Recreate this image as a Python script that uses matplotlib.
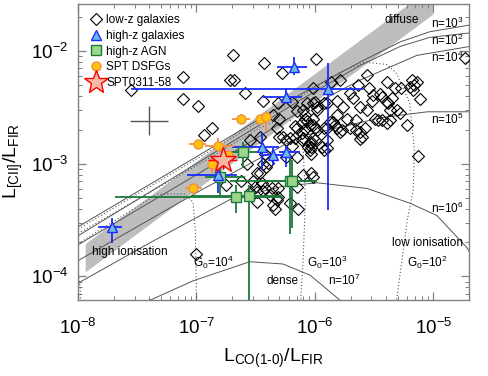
import numpy as np
import matplotlib
matplotlib.use("Agg")
import matplotlib.pyplot as plt
from matplotlib.lines import Line2D

plt.rcParams['font.family'] = ['Liberation Sans', 'DejaVu Sans']
plt.rcParams['mathtext.fontset'] = 'custom'
plt.rcParams['mathtext.rm'] = 'Liberation Sans'
plt.rcParams['mathtext.it'] = 'Liberation Sans:italic'
plt.rcParams['mathtext.bf'] = 'Liberation Sans:bold'

# === DATA (log10 values) ===
# low-z galaxies
lowz_logco = [-7.55, -7.11, -6.69, -6.72, -6.68, -6.59, -7.11, -6.99, -6.87, -6.94,
              -6.43, -5.99, -6.28, -6.44, -6.31, -6.35, -6.30, -6.15, -6.17, -6.08,
              -6.07, -6.02, -5.98, -6.08, -5.98, -6.30, -6.24, -6.17, -6.04, -5.94,
              -5.90, -5.90,
              -5.56, -5.79, -5.86, -6.02, -6.19, -5.39, -5.32, -5.27, -5.18, -5.16,
              -5.17, -5.14, -5.20, -5.11, -4.73, -5.70, -5.68, -5.51, -5.43, -5.39,
              -5.56, -5.62, -5.37, -5.31, -5.49, -5.22, -6.07, -6.10, -5.98, -5.90,
              -5.81, -5.76, -5.81, -5.73, -5.65, -5.65, -5.60, -5.70, -5.81, -5.87,
              -6.02, -6.08, -6.15, -6.11, -6.21, -6.27, -5.64, -5.54, -5.45, -5.35,
              -5.38, -5.52, -6.00, -5.92, -5.85, -5.92, -6.02, -5.62, -6.00, -6.03,
              -6.11, -5.28, -5.43, -5.37, -5.58, -5.77,
              -6.11, -6.04, -6.00, -5.83, -5.79, -5.62, -5.47, -5.39, -6.10, -6.03,
              -6.06, -6.03, -5.90, -6.19, -6.24, -6.41, -6.10, -6.03, -6.02, -6.36,
              -6.44, -6.32, -6.34, -6.14, -6.40,
              -5.13, -6.02, -6.04, -5.92, -6.49, -6.49, -6.44, -7.00,
              -6.55, -6.46, -6.42, -6.15, -6.57, -6.46, -6.62, -6.45, -6.55, -6.49,
              -6.42, -6.31, -6.38, -6.31, -6.15, -6.21, -6.75, -6.51, -6.52, -6.35,
              -6.32]
lowz_logcii = [-2.35, -2.23, -2.04, -2.26, -2.26, -2.37, -2.43, -2.49, -2.68, -2.75,
               -2.11, -2.07, -2.20, -2.44, -2.46, -2.57, -2.60, -2.53, -2.67, -2.60,
               -2.62, -2.46, -2.50, -2.69, -2.70, -2.76, -2.79, -2.77, -2.82, -2.85,
               -2.79, -2.68,
               -2.21, -2.26, -2.28, -2.33, -2.45, -2.28, -2.33, -2.33, -2.26, -2.30,
               -2.35, -2.28, -2.32, -2.43, -2.06, -2.37, -2.42, -2.39, -2.41, -2.45,
               -2.52, -2.50, -2.52, -2.52, -2.60, -2.66, -2.46, -2.52, -2.52, -2.46,
               -2.44, -2.50, -2.57, -2.60, -2.61, -2.70, -2.76, -2.68, -2.68, -2.63,
               -2.60, -2.57, -2.68, -2.73, -2.77, -2.76, -2.30, -2.33, -2.38, -2.42,
               -2.46, -2.44, -2.45, -2.46, -2.63, -2.68, -2.66, -2.78, -2.79, -2.85,
               -2.79, -2.55, -2.61, -2.61, -2.68, -2.70,
               -2.64, -2.66, -2.68, -2.66, -2.72, -2.72, -2.61, -2.64, -2.77, -2.81,
               -2.85, -2.91, -2.86, -2.84, -2.94, -3.03, -3.10, -3.08, -3.12, -3.22,
               -3.24, -3.32, -3.40, -3.40, -2.99,
               -2.93, -2.77, -2.88, -2.88, -3.08, -3.34, -3.00, -3.80,
               -2.79, -2.76, -2.91, -2.94, -3.00, -3.08, -3.15, -3.17, -3.25, -3.25,
               -3.22, -3.22, -3.28, -3.30, -3.21, -3.35, -3.19, -3.21, -3.15, -3.37,
               -2.68]

# high-z galaxies: centre, then co range and cii range
hz_logco = [-5.89, -6.18, -6.24, -6.45, -6.35, -6.24, -6.82, -7.71]
hz_logcii = [-2.34, -2.14, -2.41, -2.85, -2.92, -2.90, -3.10, -3.56]
hz_co_lo = [-7.55, -6.32, -6.44, -6.70, -6.45, -6.30, -7.08, -7.83]
hz_co_hi = [-5.59, -6.07, -6.11, -6.30, -6.25, -6.13, -6.66, -7.63]
hz_cii_lo = [-3.41, -2.21, -2.46, -3.06, -3.01, -3.03, -3.26, -3.70]
hz_cii_hi = [-2.11, -2.05, -2.33, -2.73, -2.86, -2.84, -3.03, -3.48]

# high-z AGN
agn_logco = [-6.61, -6.80, -6.21, -6.19, -6.67, -6.56]
agn_logcii = [-2.90, -3.12, -3.15, -3.15, -3.30, -3.29]
agn_co_lo = [-6.72, -6.93, -6.72, -6.46, -7.69, -7.05]
agn_co_hi = [-6.46, -6.59, -5.98, -6.00, -6.27, -6.27]
agn_cii_lo = [-3.03, -3.28, -3.62, -3.57, -3.44, -4.40]
agn_cii_hi = [-2.81, -3.00, -2.95, -2.97, -3.19, -3.19]

# SPT DSFGs
spt_logco = [-6.62, -6.46, -6.41, -6.99, -6.82, -6.73, -6.87, -7.03]
spt_logcii = [-2.60, -2.60, -2.59, -2.83, -2.84, -2.92, -3.00, -3.22]
spt_co_lo = [-6.70, -6.46, -6.41, -7.06, -6.93, -6.73, -6.87, -7.10]
spt_co_hi = [-6.55, -6.46, -6.41, -6.92, -6.68, -6.73, -6.87, -6.95]
spt_cii_lo = [-2.64, -2.60, -2.71, -2.83, -2.89, -2.92, -3.08, -3.22]
spt_cii_hi = [-2.56, -2.60, -2.53, -2.83, -2.77, -2.92, -2.93, -3.22]

# SPT0311-58
star_logco, star_logcii = -6.78, -2.97
star_co_lo, star_co_hi = -6.90, -6.66
star_cii_lo, star_cii_hi = -3.05, -2.90

# typical error cross
cross_logco, cross_logcii = -7.40, -2.62
cross_co_lo, cross_co_hi = -7.56, -7.24
cross_cii_lo, cross_cii_hi = -2.75, -2.49

# PDR model grid: density contours (solid) and G0 contours (dotted)
dens_curves = {
    '3': ([-8.00, -6.97, -6.13, -5.62, -5.28, -5.03, -4.69],
          [-3.56, -2.92, -2.39, -2.10, -1.92, -1.83, -1.77]),
    '2': ([-8.00, -6.97, -6.13, -5.62, -5.28, -5.03, -4.69],
          [-3.64, -2.98, -2.44, -2.13, -1.96, -1.88, -1.84]),
    '4': ([-8.00, -6.97, -6.13, -5.62, -5.14, -4.69],
          [-3.72, -3.08, -2.54, -2.26, -2.04, -1.96]),
    '5': ([-8.00, -6.97, -6.13, -5.43, -5.05, -4.69],
          [-3.86, -3.24, -2.76, -2.59, -2.54, -2.54]),
    '6': ([-8.00, -7.39, -6.72, -6.27, -5.98, -5.56, -5.20, -4.97, -4.72, -4.69],
          [-4.06, -3.70, -3.32, -3.20, -3.17, -3.22, -3.35, -3.46, -3.74, -3.79]),
    '7': ([-7.48, -7.39, -7.03, -6.55, -6.27, -6.04, -5.79],
          [-4.26, -4.21, -4.04, -3.87, -3.89, -3.99, -4.21]),
}
g0_curves = {
    '2': ([-8.00, -6.97, -6.13, -5.79, -5.58, -5.39, -5.31, -5.20, -5.16, -5.17, -5.22, -5.31, -5.32],
          [-3.58, -2.94, -2.41, -2.19, -2.10, -2.12, -2.20, -2.46, -2.88, -3.24, -3.50, -4.21, -4.30]),
    '3': ([-8.00, -6.97, -6.46, -6.25, -6.14, -6.10, -6.08, -6.10, -6.12, -6.13],
          [-3.62, -3.00, -2.68, -2.59, -2.66, -2.84, -3.32, -3.86, -4.21, -4.30]),
    '4': ([-8.00, -7.33, -7.10, -7.03, -7.01, -7.00, -7.00],
          [-3.71, -3.27, -3.27, -3.34, -3.59, -4.21, -4.30]),
    '5': ([-8.00, -7.98, -7.98],
          [-3.95, -4.12, -4.30]),
}

# grey band
band_logco = [-7.94, -5.0]
band_logcii_lo = [-3.96, -1.67]
band_logcii_hi = [-3.71, -1.42]


def p(v):
    return 10.0 ** np.asarray(v, dtype=float)


def err(c, lo, hi):
    c, lo, hi = p(c), p(lo), p(hi)
    return np.vstack([c - lo, hi - c])


fig = plt.figure(figsize=(4.88, 3.76), dpi=100)
ax = fig.add_axes([0.160, 0.202, 0.801, 0.787])
ax.set_xscale('log')
ax.set_yscale('log')

line_col = '#555555'

ax.fill_between(p(band_logco), p(band_logcii_lo), p(band_logcii_hi),
                color='#bdbdbd', lw=0, zorder=1)

for k, (lx, ly) in dens_curves.items():
    ax.plot(p(lx), p(ly), color=line_col, lw=0.7, zorder=2)
for k, (lx, ly) in g0_curves.items():
    ax.plot(p(lx), p(ly), color=line_col, lw=0.8, ls=(0, (1, 2)), zorder=2)

# typical error
ax.errorbar(p(cross_logco), p(cross_logcii),
            xerr=err([cross_logco], [cross_co_lo], [cross_co_hi]),
            yerr=err([cross_logcii], [cross_cii_lo], [cross_cii_hi]),
            fmt='none', ecolor='#555555', elinewidth=1.0, capsize=0, zorder=3)

# low-z diamonds
ax.plot(p(lowz_logco), p(lowz_logcii), 'D', ms=5.8, mfc='none', mec='black',
        mew=0.8, zorder=4)

# AGN
ax.errorbar(p(agn_logco), p(agn_logcii),
            xerr=err(agn_logco, agn_co_lo, agn_co_hi),
            yerr=err(agn_logcii, agn_cii_lo, agn_cii_hi),
            fmt='none', ecolor='#1b7a3c', elinewidth=1.3, capsize=0, zorder=5)
# high-z galaxies
ax.errorbar(p(hz_logco), p(hz_logcii),
            xerr=err(hz_logco, hz_co_lo, hz_co_hi),
            yerr=err(hz_logcii, hz_cii_lo, hz_cii_hi),
            fmt='none', ecolor='#1a2cff', elinewidth=1.3, capsize=0, zorder=5)
# SPT
ax.errorbar(p(spt_logco), p(spt_logcii),
            xerr=err(spt_logco, spt_co_lo, spt_co_hi),
            yerr=err(spt_logcii, spt_cii_lo, spt_cii_hi),
            fmt='none', ecolor='#f2903a', elinewidth=1.3, capsize=0, zorder=5)

ax.plot(p(agn_logco), p(agn_logcii), 's', ms=6.5, mfc='#9ed68c', mec='#1b7a3c',
        mew=1.0, zorder=6)
ax.plot(p(hz_logco), p(hz_logcii), '^', ms=7.5, mfc='#6fb6ea', mec='#1a2cff',
        mew=1.0, zorder=6)
ax.plot(p(spt_logco), p(spt_logcii), 'o', ms=6.5, mfc='#ffc20e', mec='#f2903a',
        mew=1.0, zorder=6)

ax.errorbar(p(star_logco), p(star_logcii),
            xerr=err([star_logco], [star_co_lo], [star_co_hi]),
            yerr=err([star_logcii], [star_cii_lo], [star_cii_hi]),
            fmt='none', ecolor='red', elinewidth=1.0, capsize=0, zorder=7)
ax.plot(p(star_logco), p(star_logcii), '*', ms=19, mfc='#f7b8a8', mec='red',
        mew=1.0, zorder=8)

# model labels
fs = 8.5
ax.text(p(-5.27), p(-1.73), 'diffuse', fontsize=fs, ha='center', va='center')
for exp_, ly in [('3', -1.76), ('2', -1.91), ('4', -2.06), ('5', -2.61), ('6', -3.40)]:
    ax.text(p(-5.02), p(ly), 'n=10$^{%s}$' % exp_, fontsize=fs, ha='left', va='center')
ax.text(p(-5.05), p(-3.70), 'low ionisation', fontsize=fs, ha='center', va='center')
ax.text(p(-5.22), p(-3.88), 'G$_0$=10$^2$', fontsize=fs, ha='left', va='center')
ax.text(p(-6.07), p(-3.88), 'G$_0$=10$^3$', fontsize=fs, ha='left', va='center')
ax.text(p(-7.03), p(-3.88), 'G$_0$=10$^4$', fontsize=fs, ha='left', va='center')
ax.text(p(-6.27), p(-4.04), 'dense', fontsize=fs, ha='center', va='center')
ax.text(p(-5.89), p(-4.04), 'n=10$^7$', fontsize=fs, ha='left', va='center')
ax.text(p(-7.88), p(-3.78), 'high ionisation', fontsize=fs, ha='left', va='center')

ax.set_xlim(1e-8, 2e-5)
ax.set_ylim(10 ** -4.21, 10 ** -1.585)

for s in ax.spines.values():
    s.set_color('#7f7f7f')
    s.set_linewidth(1.0)
ax.tick_params(which='both', direction='in', top=True, right=True, color='#7f7f7f')
ax.tick_params(which='major', length=6, width=0.9, labelsize=13.5)
ax.tick_params(which='minor', length=3, width=0.7)
ax.tick_params(axis='x', which='major', pad=13)
ax.tick_params(axis='y', which='major', pad=7)

ax.set_xlabel(r'L$_{\rm CO(1\text{-}0)}$/L$_{\rm FIR}$', fontsize=14, labelpad=6)
ax.set_ylabel(r'L$_{\rm [CII]}$/L$_{\rm FIR}$', fontsize=14)
ax.yaxis.set_label_coords(-0.135, 0.47)

handles = [
    Line2D([], [], ls='none', marker='D', ms=5.8, mfc='none', mec='black', mew=0.8),
    Line2D([], [], ls='none', marker='^', ms=7.5, mfc='#6fb6ea', mec='#1a2cff', mew=1.0),
    Line2D([], [], ls='none', marker='s', ms=6.5, mfc='#9ed68c', mec='#1b7a3c', mew=1.0),
    Line2D([], [], ls='none', marker='o', ms=6.5, mfc='#ffc20e', mec='#f2903a', mew=1.0),
    Line2D([], [], ls='none', marker='*', ms=18, mfc='#f7b8a8', mec='red', mew=1.0),
]
labels = ['low-z galaxies', 'high-z galaxies', 'high-z AGN', 'SPT DSFGs', 'SPT0311-58']
ax.legend(handles, labels, loc='upper left', bbox_to_anchor=(0.015, 0.985),
          frameon=False, fontsize=8.5,
          handlelength=1.0, handletextpad=0.4, labelspacing=0.3,
          borderaxespad=0.3, borderpad=0.2)

fig.savefig('out.png', dpi=100)
